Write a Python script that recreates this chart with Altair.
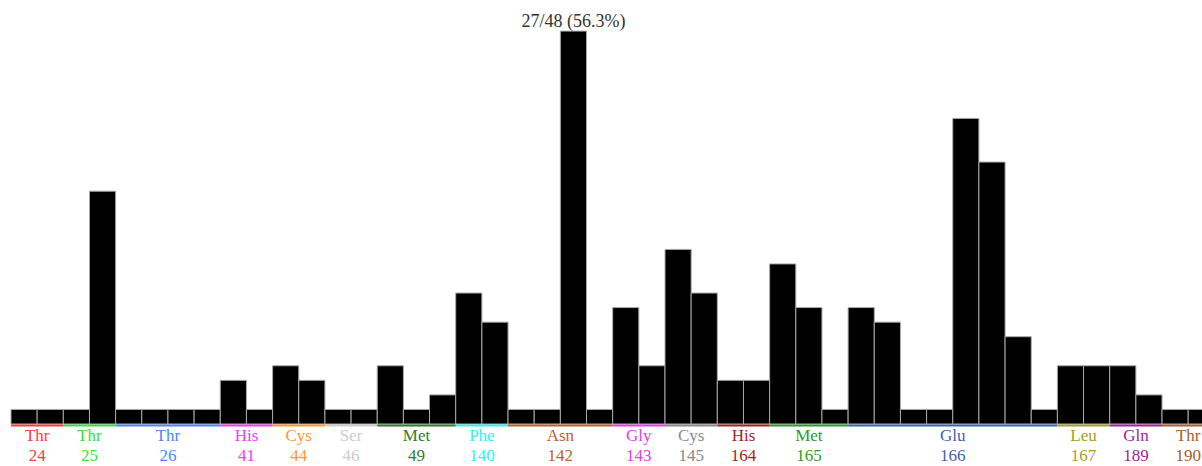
import altair as alt
import pandas as pd

# Residues along the bottom, and the bar counts that sit above each one
residues = ["Thr", "Thr", "Thr", "His", "Cys", "Ser", "Met", "Phe", "Asn",
            "Gly", "Cys", "His", "Met", "Glu", "Leu", "Gln", "Thr"]
numbers = [24, 25, 26, 41, 44, 46, 49, 140, 142, 143, 145, 164, 165, 166, 167, 189, 190]
counts = [
    [1, 1],
    [1, 16],
    [1, 1, 1, 1],
    [3, 1],
    [4, 3],
    [1, 1],
    [4, 1, 2],
    [9, 7],
    [1, 1, 27, 1],
    [8, 4],
    [12, 9],
    [3, 3],
    [11, 8, 1],
    [8, 7, 1, 1, 21, 18, 6, 1],
    [4, 4],
    [4, 2],
    [1, 1],
]
palette = ["#ff3a3a", "#3ae03a", "#4d86ff", "#f03cf0", "#ff9830", "#cccccc",
           "#2f7d2f", "#30f0f0", "#c0602a", "#e83ce8", "#8a8a8a", "#a02424",
           "#2f9a2f", "#4062b0", "#a0a028", "#a024a0", "#a8602c"]
peak_label = "27/48 (56.3%)"

# Layout
BAR_PX = 26.16
W, H = 1191, 422

bar_rows, group_rows = [], []
pos = 0
for name, num, vals, col in zip(residues, numbers, counts, palette):
    group_rows.append({"name": name, "num": str(num), "gstart": pos,
                       "gend": pos + len(vals), "center": pos + len(vals) / 2,
                       "color": col})
    for v in vals:
        bar_rows.append({"start": pos, "end": pos + 1, "mid": pos + 0.5, "value": v})
        pos += 1

bars_df = pd.DataFrame(bar_rows)
groups_df = pd.DataFrame(group_rows)
peak_df = bars_df[bars_df["value"] == bars_df["value"].max()].assign(label=peak_label)

x_scale = alt.Scale(domain=[0, W / BAR_PX], nice=False, zero=False)
y_scale = alt.Scale(domain=[0, 29], nice=False)

bars = alt.Chart(bars_df).mark_bar(color="black", stroke="#a8a8a8", strokeWidth=1).encode(
    x=alt.X("start:Q", scale=x_scale, axis=None),
    x2="end:Q",
    y=alt.Y("value:Q", scale=y_scale, axis=None),
    y2=alt.datum(0),
)

underline = alt.Chart(groups_df).mark_rule(strokeWidth=2).encode(
    x=alt.X("gstart:Q", scale=x_scale, axis=None),
    x2="gend:Q",
    y=alt.value(H + 1.5),
    color=alt.Color("color:N", scale=None),
)

name_text = alt.Chart(groups_df).mark_text(
    font="Liberation Serif", fontSize=17, baseline="alphabetic", align="center"
).encode(
    x=alt.X("center:Q", scale=x_scale, axis=None),
    y=alt.value(H + 17),
    text="name:N",
    color=alt.Color("color:N", scale=None),
)

num_text = alt.Chart(groups_df).mark_text(
    font="Liberation Serif", fontSize=17, baseline="alphabetic", align="center"
).encode(
    x=alt.X("center:Q", scale=x_scale, axis=None),
    y=alt.value(H + 37),
    text="num:N",
    color=alt.Color("color:N", scale=None),
)

peak_text = alt.Chart(peak_df).mark_text(
    font="Liberation Serif", fontSize=18, baseline="alphabetic", align="center",
    dy=-4, color="#333333"
).encode(
    x=alt.X("mid:Q", scale=x_scale, axis=None),
    y=alt.Y("value:Q", scale=y_scale, axis=None),
    text="label:N",
)

chart = alt.layer(bars, underline, name_text, num_text, peak_text).properties(
    width=W,
    height=H,
    autosize=alt.AutoSizeParams(type="none"),
    padding={"left": 11, "top": 2, "right": 0, "bottom": 466 - 2 - H},
    background="white",
).configure_view(stroke=None)

chart.save("out.html", embed_options={"renderer": "svg", "actions": False})
